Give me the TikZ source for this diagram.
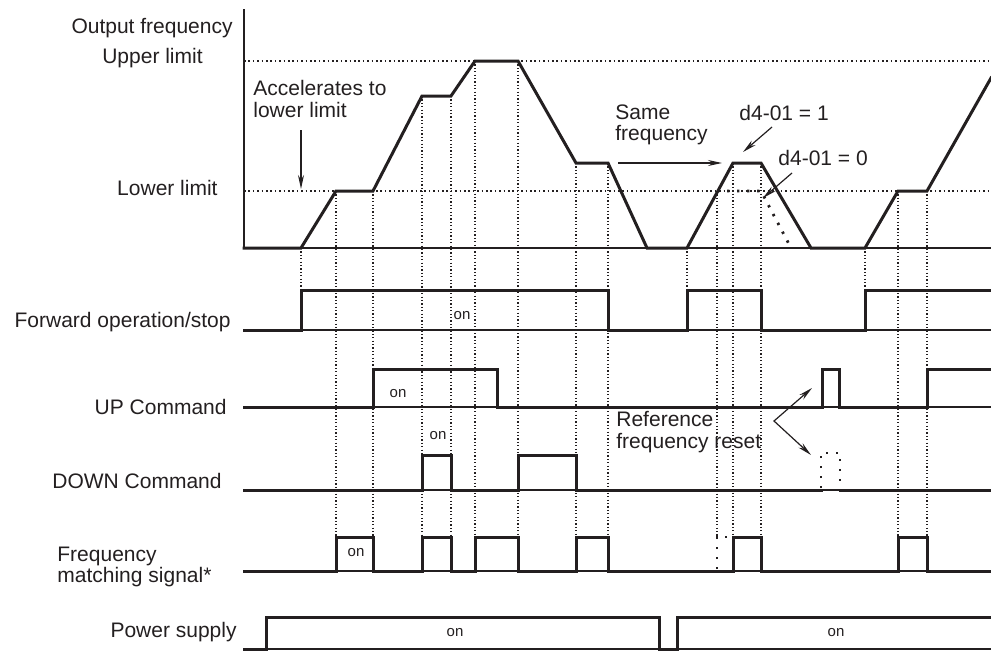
\documentclass[tikz,border=0pt]{standalone}
\usepackage{fontspec}
\setmainfont{Liberation Sans}
\usetikzlibrary{arrows.meta}
\definecolor{ink}{HTML}{231F20}
\begin{document}
\begin{tikzpicture}[x=0.5pt,y=-0.5pt,
  every node/.style={text=ink},
  lbl/.style={font=\fontsize{10.5}{10.8}\selectfont, inner sep=0pt},
  onlbl/.style={font=\fontsize{7.5}{9}\selectfont, inner sep=0pt},
  sig/.style={draw=ink, line width=1.5pt, line join=miter, line cap=rect},
  base/.style={draw=ink, line width=0.55pt},
  guide/.style={draw=ink, line width=0.6pt, dash pattern=on 0.6pt off 1.1pt},
  limit/.style={draw=ink, line width=0.7pt, dash pattern=on 0.8pt off 1.4pt},
  bigdot/.style={draw=ink, line width=1.4pt, dash pattern=on 1.2pt off 3.8pt},
  arr/.style={draw=ink, line width=0.6pt, -{Stealth[length=7pt,width=3pt]}}
]
\useasboundingbox (0,0) rectangle (991,653);

% ---------- left labels ----------
\node[lbl, anchor=east] (tOut) at (233,28) {Output frequency};
\node[lbl] (tUp) at (152.5,58) {Upper limit};
\node[lbl, anchor=east] (tLow) at (218,188) {Lower limit};
\node[lbl, anchor=east] (tFwd) at (231,322) {Forward operation/stop};
\node[lbl, anchor=east] (tUPc) at (227,407) {UP Command};
\node[lbl, anchor=east] (tDNc) at (222,481) {DOWN Command};
\node[lbl, anchor=west, align=left] (tFM) at (57,567) {Frequency\\matching signal*};
\node[lbl, anchor=east] (tPow) at (237,632) {Power supply};

% ---------- frequency axis ----------
\draw[draw=ink, line width=0.75pt] (244,9) -- (244,248);
\draw[base] (244,248) -- (991,248);
\draw[limit] (244,61) -- (991,61);
\draw[limit] (244,191) -- (991,191);

% ---------- guidelines ----------
\foreach \x/\a/\b in {301/248/290, 336/191/537, 373/191/537, 422/96/537,
  451/96/537, 475/61/537, 518/61/537, 576/163/537, 608/163/537,
  687/248/290, 717/191/537, 733/163/537, 761/163/537, 865/248/290,
  898/191/537, 927/191/537}
  \draw[guide] (\x,\a) -- (\x,\b);

% ---------- frequency trace ----------
\draw[sig] (244,248) -- (301,248) -- (336,191) -- (373,191) -- (422,96) -- (451,96)
  -- (475,61) -- (518,61) -- (576,163) -- (608,163) -- (647,248) -- (687,248)
  -- (733,163) -- (761,163) -- (811,248) -- (865,248) -- (898,191) -- (927,191)
  -- (991,78);
\draw[bigdot] (717,191) -- (761,191) -- (791,248);

% ---------- annotations ----------
\node[lbl, anchor=west, align=left] (tAcc) at (253,99) {Accelerates to\\lower limit};
\coordinate (accA) at (301,130);
\coordinate (accB) at (301,189);
\draw[arr] (accA) -- (accB);

\node[lbl, anchor=west, align=left] (tSame) at (615,125) {Same\\frequency};
\coordinate (sameA) at (618,163);
\coordinate (sameB) at (722,163);
\draw[arr] (sameA) -- (sameB);

\node[lbl, anchor=west] (tD1) at (739,113) {d4-01 = 1};
\coordinate (d1A) at (772,127);
\coordinate (d1B) at (743,152);
\draw[arr] (d1A) -- (d1B);

\node[lbl, anchor=west] (tD0) at (778,158) {d4-01 = 0};
\coordinate (d0A) at (792,173);
\coordinate (d0B) at (763,198);
\draw[arr] (d0A) -- (d0B);

\node[lbl, anchor=west, align=left] (tRef) at (616,432) {Reference\\frequency reset};
\coordinate (refV) at (774,421);
\coordinate (refU) at (812,388);
\coordinate (refD) at (811,455);
\draw[arr, {Stealth[length=7pt,width=3pt]}-{Stealth[length=7pt,width=3pt]}] (refU) -- (refV) -- (refD);

% ---------- Forward operation/stop ----------
\draw[base] (244,330) -- (991,330);
\draw[sig] (244,330) -- (301,330) -- (301,290) -- (608,290) -- (608,330) -- (687,330)
  -- (687,290) -- (761,290) -- (761,330) -- (865,330) -- (865,290) -- (991,290);
\node[onlbl] (onFwd) at (462,316) {on};

% ---------- UP Command ----------
\draw[base] (244,407) -- (991,407);
\draw[sig] (244,407) -- (373,407) -- (373,369) -- (497,369) -- (497,407) -- (822,407)
  -- (822,369) -- (839,369) -- (839,407) -- (927,407) -- (927,369) -- (991,369);
\node[onlbl] (onUP) at (398,394) {on};

% ---------- DOWN Command ----------
\draw[base] (244,490) -- (991,490);
\draw[sig] (244,490) -- (422,490) -- (422,455) -- (451,455) -- (451,490) -- (518,490)
  -- (518,455) -- (576,455) -- (576,490) -- (821,490);
\draw[sig] (840,490) -- (991,490);
\draw[bigdot] (821,488) -- (821,453) -- (840,453) -- (840,488);
\node[onlbl] (onDN) at (438,436) {on};

% ---------- Frequency matching signal ----------
\draw[base] (244,571) -- (991,571);
\draw[sig] (244,571) -- (336,571) -- (336,537) -- (373,537) -- (373,571) -- (422,571)
  -- (422,537) -- (451,537) -- (451,571) -- (475,571) -- (475,537) -- (518,537)
  -- (518,571) -- (576,571) -- (576,537) -- (608,537) -- (608,571) -- (733,571)
  -- (733,537) -- (761,537) -- (761,571) -- (898,571) -- (898,537) -- (927,537)
  -- (927,571) -- (991,571);
\draw[bigdot] (717,569) -- (717,537) -- (733,537);
\node[onlbl] (onFM) at (356,553) {on};

% ---------- Power supply ----------
\draw[base] (244,649) -- (991,649);
\draw[sig] (244,649) -- (266,649) -- (266,617) -- (659,617) -- (659,649) -- (677,649)
  -- (677,617) -- (991,617);
\node[onlbl] (onP1) at (455,633) {on};
\node[onlbl] (onP2) at (836,633) {on};
\end{tikzpicture}
\end{document}
